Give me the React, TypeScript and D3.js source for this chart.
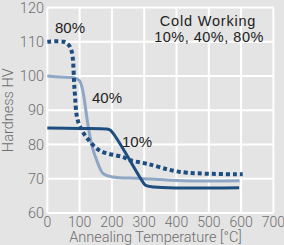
import * as d3 from "d3";

// annealing temperature (°C) / hardness (HV)
const temp80 = [0, 50, 67, 76, 80, 83, 86, 91, 100, 122, 163, 235, 256, 308, 411, 605];
const hard80 = [110, 110, 109, 107, 104, 98, 94, 88.5, 85.5, 82, 78.2, 76.3, 75.4, 74.4, 72, 71.3];

const temp40 = [0, 40, 86, 100, 108, 114, 120, 128, 140, 153, 173, 204, 290, 420, 595];
const hard40 = [100, 99.7, 99.4, 98.6, 96.5, 93.5, 89.5, 84.5, 79, 75.4, 71.5, 70.5, 70.1, 69.4, 69.4];

const temp10 = [0, 100, 185, 196, 292, 304, 330, 400, 594];
const hard10 = [84.8, 84.7, 84.5, 84.1, 69.6, 68.1, 67.6, 67.3, 67.4];

const xTicks = [0, 100, 200, 300, 400, 500, 600, 700];
const yTicks = [60, 70, 80, 90, 100, 110, 120];

const W = 284;
const H = 245;
const dark = "#1d4e7f";
const light = "#8fa7c5";

const App = () => {
  const x = d3.scaleLinear().domain([0, 700]).range([47.3, 273.4]);
  const y = d3.scaleLinear().domain([60, 120]).range([213, 7.5]);

  const line = d3
    .line<[number, number]>()
    .x((d) => x(d[0]))
    .y((d) => y(d[1]))
    .curve(d3.curveCatmullRom.alpha(0.5));

  const pts = (t: number[], h: number[]) => t.map((v, i) => [v, h[i]] as [number, number]);

  const font = "'Liberation Sans', Arial, sans-serif";
  const tickFont = "Roboto, 'Liberation Sans', sans-serif";

  return (
    <div style={{ position: "fixed", left: 0, top: 0, width: W, height: H, background: "#e4e4e4" }}>
      <svg width={W} height={H} style={{ display: "block" }} fontFamily={font}>
        {xTicks.map((t) => (
          <line key={"gx" + t} x1={x(t)} x2={x(t)} y1={y(120)} y2={y(60)} stroke="#fff" strokeWidth={2} />
        ))}
        {yTicks.map((t) => (
          <line key={"gy" + t} x1={x(0)} x2={x(700)} y1={y(t)} y2={y(t)} stroke="#fff" strokeWidth={2} />
        ))}

        <path d={line(pts(temp40, hard40)) ?? ""} fill="none" stroke={light} strokeWidth={3} />
        <path d={line(pts(temp10, hard10)) ?? ""} fill="none" stroke={dark} strokeWidth={3} />
        <path
          d={line(pts(temp80, hard80)) ?? ""}
          fill="none"
          stroke={dark}
          strokeWidth={4}
          strokeDasharray="4 3"
        />

        {yTicks.map((t) => (
          <text key={"ty" + t} x={44} y={y(t) + 5} textAnchor="end" fontSize={14.5} fill="#6e6e6e"
            fontFamily={tickFont} fontWeight={300}>
            {t}
          </text>
        ))}
        {xTicks.map((t) => (
          <text key={"tx" + t} x={x(t)} y={226.5} textAnchor="middle" fontSize={14} fill="#6e6e6e"
            fontFamily={tickFont} fontWeight={300}>
            {t}
          </text>
        ))}

        <text x={155.5} y={242} textAnchor="middle" fontSize={14.5} fill="#6e6e6e" fontFamily={tickFont} fontWeight={300}>
          Annealing Temperature [°C]
        </text>
        <text transform={`translate(13,${y(90)}) rotate(-90)`} textAnchor="middle" fontSize={14.5} fill="#6e6e6e"
          fontFamily={tickFont} fontWeight={300}>
          Hardness HV
        </text>

        <text x={70} y={33} textAnchor="middle" fontSize={15} fill="#222">80%</text>
        <text x={107} y={103} textAnchor="middle" fontSize={15} fill="#222">40%</text>
        <text x={137} y={147} textAnchor="middle" fontSize={15} fill="#222">10%</text>

        <text x={208} y={26} textAnchor="middle" fontSize={14.5} fill="#222" letterSpacing={0.8}>Cold Working</text>
        <text x={209} y={42} textAnchor="middle" fontSize={14.5} fill="#222" letterSpacing={0.5}>10%, 40%, 80%</text>
      </svg>
    </div>
  );
};

export default App;
